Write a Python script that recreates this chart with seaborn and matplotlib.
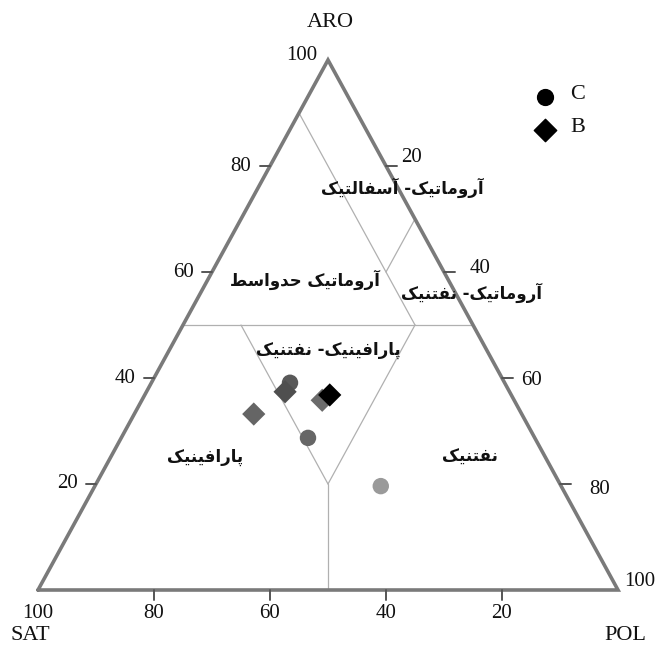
import numpy as np
import pandas as pd
import matplotlib
matplotlib.use("Agg")
import matplotlib.pyplot as plt
import seaborn as sns

# ---- data: composition (%) of each sample ----
oil_type = ["C", "B", "B", "C", "B", "C", "B"]
sat = [37.0, 38.7, 46.2, 39.1, 33.1, 31.1, 31.3]
aro = [39.1, 37.4, 33.2, 28.7, 35.8, 19.6, 36.8]
pol = [23.9, 23.9, 20.6, 32.2, 31.1, 49.3, 31.9]
point_colors = ["#595959", "#4f4f4f", "#656565", "#666666", "#6b6b6b", "#9a9a9a", "#000000"]

tick_values = [20, 40, 60, 80, 100]
bottom_tick_values = [100, 80, 60, 40, 20]

# classification boundaries, each given as a list of (SAT, ARO, POL) corners
boundaries = [
    [(50, 50, 0), (0, 50, 50)],          # ARO = 50
    [(10, 90, 0), (10, 50, 40)],         # SAT = 10 (upper part)
    [(0, 70, 30), (10, 60, 30)],         # POL = 30 short divider
    [(40, 50, 10), (40, 20, 40)],        # SAT = 40 (left arm of V)
    [(10, 50, 40), (40, 20, 40)],        # POL = 40 (right arm of V)
    [(40, 20, 40), (50, 0, 50)],         # SAT = POL (stem)
]

# zone names and where they sit in the plot frame (x, y on the 0-100 scale)
zone_names = ["آروماتیک- آسفالتیک", "آروماتیک حدواسط", "آروماتیک- نفتنیک",
              "پارافینیک- نفتنیک", "پارافینیک", "نفتنیک"]
zone_x = [62.9, 46.0, 74.8, 50.0, 28.8, 74.5]
zone_y = [75.8, 58.5, 56.0, 45.3, 25.1, 25.1]


# ---- minimal Arabic-script shaping (contextual forms + right-to-left order) ----
FORMS = {
    "\u0622": ("\uFE81", "\uFE82", None, None),
    "\u0627": ("\uFE8D", "\uFE8E", None, None),
    "\u067E": ("\uFB56", "\uFB57", "\uFB58", "\uFB59"),
    "\u062A": ("\uFE95", "\uFE96", "\uFE97", "\uFE98"),
    "\u062D": ("\uFEA1", "\uFEA2", "\uFEA3", "\uFEA4"),
    "\u062F": ("\uFEA9", "\uFEAA", None, None),
    "\u0631": ("\uFEAD", "\uFEAE", None, None),
    "\u0633": ("\uFEB1", "\uFEB2", "\uFEB3", "\uFEB4"),
    "\u0637": ("\uFEC1", "\uFEC2", "\uFEC3", "\uFEC4"),
    "\u0641": ("\uFED1", "\uFED2", "\uFED3", "\uFED4"),
    "\u0644": ("\uFEDD", "\uFEDE", "\uFEDF", "\uFEE0"),
    "\u0645": ("\uFEE1", "\uFEE2", "\uFEE3", "\uFEE4"),
    "\u0646": ("\uFEE5", "\uFEE6", "\uFEE7", "\uFEE8"),
    "\u0648": ("\uFEED", "\uFEEE", None, None),
    "\u06A9": ("\uFB8E", "\uFB8F", "\uFB90", "\uFB91"),
    "\u0643": ("\uFB8E", "\uFB8F", "\uFB90", "\uFB91"),
    "\u06CC": ("\uFBFC", "\uFBFD", "\uFBFE", "\uFBFF"),
    "\u064A": ("\uFBFC", "\uFBFD", "\uFBFE", "\uFBFF"),
}


def shape_rtl(text):
    out = []
    n = len(text)
    for i, ch in enumerate(text):
        forms = FORMS.get(ch)
        if forms is None:
            out.append(ch)
            continue
        prev = text[i - 1] if i > 0 else None
        nxt = text[i + 1] if i < n - 1 else None
        join_prev = prev in FORMS and FORMS[prev][2] is not None
        join_next = nxt in FORMS and forms[2] is not None
        if join_prev and join_next:
            out.append(forms[3])
        elif join_prev:
            out.append(forms[1])
        elif join_next:
            out.append(forms[2])
        else:
            out.append(forms[0])
    return "".join(reversed(out))


def to_xy(s, a, p):
    total = s + a + p
    return 100 * (p + a / 2) / total, 100 * a / total


sns.set_theme(style="white")
plt.rcParams["font.family"] = ["Liberation Serif", "DejaVu Serif"]

fig = plt.figure(figsize=(6.63, 6.46), dpi=100)
ax = fig.add_axes([0, 0, 1, 1])
ax.set_xlim(-38 / 5.8, (663 - 38) / 5.8)
ax.set_ylim(-56 / 5.3, 590 / 5.3)
ax.axis("off")

# triangle frame
corners = np.array([to_xy(100, 0, 0), to_xy(0, 0, 100), to_xy(0, 100, 0), to_xy(100, 0, 0)])
ax.plot(corners[:, 0], corners[:, 1], color="#7a7a7a", lw=2.6, solid_joinstyle="miter", zorder=3)

# classification lines
for seg in boundaries:
    xy = np.array([to_xy(*c) for c in seg])
    ax.plot(xy[:, 0], xy[:, 1], color="#b0b0b0", lw=0.9, zorder=2)

tick_kw = dict(color="#555555", lw=1.4, zorder=3)
lab_kw = dict(textcoords="offset pixels", ha="center", va="center", fontsize=15, color="#111111")

# ARO ticks (left edge)
for v in tick_values:
    x, y = to_xy(100 - v, v, 0)
    if v < 100:
        ax.plot([x - 1.7, x], [y, y], **tick_kw)
        ax.annotate(str(v), (x, y), xytext=(-29, 0), **lab_kw)
    else:
        ax.annotate(str(v), (x, y), xytext=(-26, 5), **lab_kw)

# POL ticks (right edge)
right_off = {20: (26, 9), 40: (36, 4), 60: (29, -2), 80: (40, -6), 100: (22, 8)}
for v in tick_values:
    x, y = to_xy(0, 100 - v, v)
    if v < 100:
        ax.plot([x, x + 1.9], [y, y], **tick_kw)
    ax.annotate(str(v), (x, y), xytext=right_off[v], **lab_kw)

# SAT ticks (bottom edge)
for v in bottom_tick_values:
    x, y = to_xy(v, 0, 100 - v)
    if v < 100:
        ax.plot([x, x], [y, y - 1.9], **tick_kw)
    ax.annotate(str(v), (x, y), xytext=(0, -24), **lab_kw)

# vertex names
vkw = dict(lab_kw, fontsize=16)
ax.annotate("ARO", to_xy(0, 100, 0), xytext=(2, 38), **vkw)
ax.annotate("SAT", to_xy(100, 0, 0), xytext=(-8, -46), **vkw)
ax.annotate("POL", to_xy(0, 0, 100), xytext=(7, -46), **vkw)

# zone names
for name, zx, zy in zip(zone_names, zone_x, zone_y):
    ax.text(zx, zy, shape_rtl(name), ha="center", va="center", fontsize=12,
            fontweight="bold", family=["DejaVu Sans"], color="#111111", zorder=4)

# samples
xs, ys = zip(*[to_xy(s, a, p) for s, a, p in zip(sat, aro, pol)])
df = pd.DataFrame({"x": xs, "y": ys, "oil": oil_type,
                   "sample": [f"s{i}" for i in range(len(xs))]})
sns.scatterplot(data=df, x="x", y="y", hue="sample", palette=point_colors,
                style="oil", markers={"C": "o", "B": "D"}, s=140,
                edgecolor="none", legend=False, ax=ax, zorder=5)

# legend
legend_items = [("C", "o"), ("B", "D")]
for i, (lab, mk) in enumerate(legend_items):
    lx, ly = (545 - 38) / 5.8, (590 - 97 - 33 * i) / 5.3
    ax.scatter([lx], [ly], marker=mk, s=130, color="black", zorder=5)
    ax.text(lx + 4.4, ly + 0.4, lab, ha="left", va="center", fontsize=16, color="#111111")

fig.savefig("out.png", dpi=100)
